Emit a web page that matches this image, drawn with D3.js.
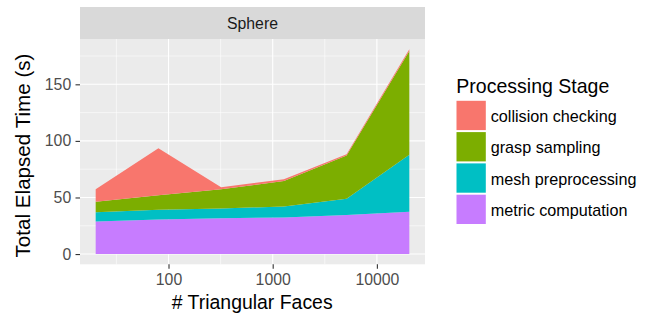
<!DOCTYPE html>
<html><head><meta charset="utf-8">
<script src="https://cdn.jsdelivr.net/npm/d3@7"></script>
<style>body{margin:0;background:#fff}svg{display:block;font-family:"Liberation Sans",Arial,sans-serif}</style>
</head><body><svg id="c" width="650" height="314"></svg>
<script>
const faces = [20, 80, 320, 1280, 5120, 20480];
const stages = ["collision checking", "grasp sampling", "mesh preprocessing", "metric computation"];
const collision = [11.0, 41.7, 1.7, 1.5, 1.3, 1.6];
const grasp = [9.2, 12.8, 17.0, 22.5, 38.2, 91.7];
const mesh = [8.2, 8.6, 8.6, 9.8, 14.2, 50.4];
const metric = [28.8, 30.5, 31.7, 32.3, 34.6, 37.3];
const colors = ["#F8766D", "#7CAE00", "#00BFC4", "#C77CFF"];
const xTicks = [100, 1000, 10000];
const yTicks = [0, 50, 100, 150];
const facet = "Sphere";

const svg = d3.select("#c");
const P = {l: 80, r: 425, t: 39, b: 264.3};
const rows = faces.map((f, i) => ({faces: f, "metric computation": metric[i], "mesh preprocessing": mesh[i], "grasp sampling": grasp[i], "collision checking": collision[i]}));
const stackOrder = ["metric computation", "mesh preprocessing", "grasp sampling", "collision checking"];
const series = d3.stack().keys(stackOrder)(rows);
const ymax = d3.max(series[series.length - 1], d => d[1]);
const lx0 = Math.log10(faces[0]), lx1 = Math.log10(faces[faces.length - 1]);
const ex = (lx1 - lx0) * 0.05;
const x = d3.scaleLog().domain([Math.pow(10, lx0 - ex), Math.pow(10, lx1 + ex)]).range([P.l, P.r]);
const y = d3.scaleLinear().domain([-ymax * 0.05, ymax * 1.05]).range([P.b, P.t]);

// fit font-size of a text node so its width matches a target
function fit(sel, target) {
  const n = sel.node();
  const s0 = 16;
  sel.attr("font-size", s0);
  const w = n.getComputedTextLength();
  const s = s0 * target / w;
  sel.attr("font-size", s);
  return s;
}

// strip
svg.append("rect").attr("x", P.l).attr("y", 7).attr("width", P.r - P.l).attr("height", P.t - 7).attr("fill", "#D9D9D9");
const st = svg.append("text").attr("x", (P.l + P.r) / 2).attr("y", 29.3).attr("text-anchor", "middle")
  .attr("fill", "#1A1A1A").text(facet);
fit(st, 51);
// panel
svg.append("rect").attr("x", P.l).attr("y", P.t).attr("width", P.r - P.l).attr("height", P.b - P.t).attr("fill", "#EBEBEB");
const g = svg.append("g");
const xMinor = [1.5, 2.5, 3.5, 4.5].map(v => Math.pow(10, v)).filter(v => x(v) > P.l && x(v) < P.r);
const yMinor = [25, 75, 125, 175].filter(v => y(v) > P.t);
g.selectAll(".xm").data(xMinor).join("line").attr("x1", d => x(d)).attr("x2", d => x(d)).attr("y1", P.t).attr("y2", P.b).attr("stroke", "#fff").attr("stroke-width", 0.55);
g.selectAll(".ym").data(yMinor).join("line").attr("y1", d => y(d)).attr("y2", d => y(d)).attr("x1", P.l).attr("x2", P.r).attr("stroke", "#fff").attr("stroke-width", 0.55);
g.selectAll(".xM").data(xTicks).join("line").attr("x1", d => x(d)).attr("x2", d => x(d)).attr("y1", P.t).attr("y2", P.b).attr("stroke", "#fff").attr("stroke-width", 1.1);
g.selectAll(".yM").data(yTicks).join("line").attr("y1", d => y(d)).attr("y2", d => y(d)).attr("x1", P.l).attr("x2", P.r).attr("stroke", "#fff").attr("stroke-width", 1.1);

const area = d3.area().x(d => x(d.data.faces)).y0(d => y(d[0])).y1(d => y(d[1]));
g.selectAll(".area").data(series).join("path")
  .attr("d", area).attr("fill", d => colors[stages.indexOf(d.key)]);

// axes
const xa = svg.append("g").attr("transform", `translate(0,${P.b})`)
  .call(d3.axisBottom(x).tickValues(xTicks).tickFormat(d3.format("d")).tickSize(4.5).tickPadding(5.3));
const ya = svg.append("g").attr("transform", `translate(${P.l},0)`)
  .call(d3.axisLeft(y).tickValues(yTicks).tickSize(4.5).tickPadding(4.3));
let tickFs = 15.5;
{
  const t = xa.selectAll(".tick text").filter(d => d === 10000);
  t.attr("font-family", "Liberation Sans, Arial, sans-serif");
  tickFs = fit(t, 44);
}
[xa, ya].forEach(a => {
  a.select(".domain").remove();
  a.selectAll(".tick line").attr("stroke", "#333").attr("stroke-width", 1.1);
  a.selectAll(".tick text").attr("fill", "#4D4D4D").attr("font-size", tickFs).attr("font-family", "Liberation Sans, Arial, sans-serif");
});
const xt = svg.append("text").attr("x", 252.2).attr("y", 308.7).attr("text-anchor", "middle").attr("fill", "#000").text("# Triangular Faces");
fit(xt, 161);
const yt = svg.append("text").attr("transform", `translate(29.5,155.5) rotate(-90)`).attr("text-anchor", "middle").attr("fill", "#000").text("Total Elapsed Time (s)");
fit(yt, 204);

// legend
const L = svg.append("g");
const lt = L.append("text").attr("x", 456.3).attr("y", 93.3).attr("fill", "#000").text("Processing Stage");
fit(lt, 153);
let labFs = 16;
stages.forEach((s, i) => {
  const yy = 100.8 + i * 31.3;
  L.append("rect").attr("x", 456.5).attr("y", yy).attr("width", 29.3).attr("height", 29.3).attr("fill", colors[i]);
  const t = L.append("text").attr("x", 490.7).attr("y", yy + 21.3).attr("fill", "#000").text(s);
  if (i === 0) labFs = fit(t, 126); else t.attr("font-size", labFs);
});
</script></body></html>
